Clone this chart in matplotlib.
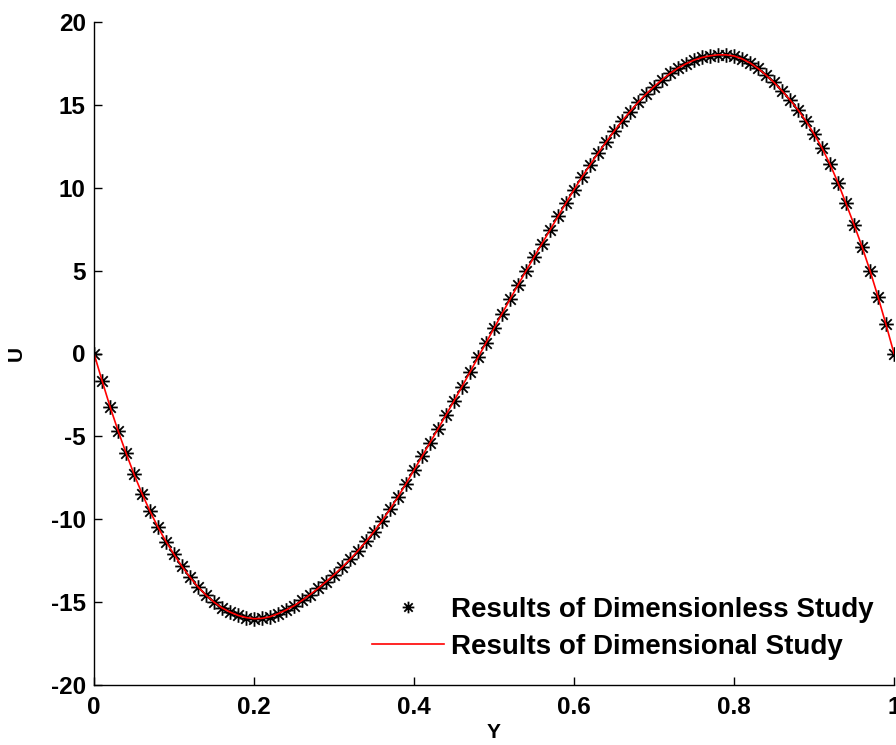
import matplotlib
matplotlib.use("Agg")
import matplotlib.pyplot as plt
from matplotlib.path import Path

# ---- data ----
y_coord = [0.00, 0.01, 0.02, 0.03, 0.04, 0.05, 0.06, 0.07, 0.08, 0.09,
           0.10, 0.11, 0.12, 0.13, 0.14, 0.15, 0.16, 0.17, 0.18, 0.19,
           0.20, 0.21, 0.22, 0.23, 0.24, 0.25, 0.26, 0.27, 0.28, 0.29,
           0.30, 0.31, 0.32, 0.33, 0.34, 0.35, 0.36, 0.37, 0.38, 0.39,
           0.40, 0.41, 0.42, 0.43, 0.44, 0.45, 0.46, 0.47, 0.48, 0.49,
           0.50, 0.51, 0.52, 0.53, 0.54, 0.55, 0.56, 0.57, 0.58, 0.59,
           0.60, 0.61, 0.62, 0.63, 0.64, 0.65, 0.66, 0.67, 0.68, 0.69,
           0.70, 0.71, 0.72, 0.73, 0.74, 0.75, 0.76, 0.77, 0.78, 0.79,
           0.80, 0.81, 0.82, 0.83, 0.84, 0.85, 0.86, 0.87, 0.88, 0.89,
           0.90, 0.91, 0.92, 0.93, 0.94, 0.95, 0.96, 0.97, 0.98, 0.99,
           1.00]

u_dimensionless = [0.0, -1.63, -3.2, -4.65, -6.0, -7.28, -8.45, -9.52, -10.48, -11.35,
                   -12.12, -12.85, -13.5, -14.08, -14.58, -15.0, -15.35, -15.6, -15.8, -15.93,
                   -16.0, -15.98, -15.88, -15.7, -15.48, -15.22, -14.9, -14.55, -14.17, -13.77,
                   -13.35, -12.9, -12.42, -11.9, -11.34, -10.74, -10.1, -9.4, -8.65, -7.86,
                   -7.04, -6.21, -5.38, -4.55, -3.71, -2.86, -2.0, -1.12, -0.24, 0.64,
                   1.52, 2.4, 3.27, 4.13, 4.98, 5.81, 6.63, 7.45, 8.27, 9.08,
                   9.88, 10.65, 11.38, 12.08, 12.75, 13.4, 14.02, 14.6, 15.15, 15.65,
                   16.1, 16.52, 16.9, 17.22, 17.48, 17.7, 17.86, 17.96, 18.02, 18.02,
                   17.95, 17.78, 17.53, 17.2, 16.8, 16.35, 15.85, 15.3, 14.7, 14.02,
                   13.25, 12.4, 11.42, 10.3, 9.05, 7.78, 6.45, 5.0, 3.42, 1.75,
                   0.0]

u_dimensional = list(u_dimensionless)

x_ticks = [0, 0.2, 0.4, 0.6, 0.8, 1]
x_tick_labels = ["0", "0.2", "0.4", "0.6", "0.8", "1"]
y_ticks = [-20, -15, -10, -5, 0, 5, 10, 15, 20]
y_tick_labels = ["-20", "-15", "-10", "-5", "0", "5", "10", "15", "20"]

label_dimensionless = "Results of Dimensionless Study"
label_dimensional = "Results of Dimensional Study"

# ---- style ----
plt.rcParams['font.family'] = ['Liberation Sans', 'DejaVu Sans']
plt.rcParams['font.weight'] = 'bold'

# MATLAB-like asterisk marker (+ and x combined)
d = 0.72
ast_verts = [(-1, 0), (1, 0), (0, -1), (0, 1), (-d, -d), (d, d), (-d, d), (d, -d)]
ast_codes = [Path.MOVETO, Path.LINETO] * 4
asterisk = Path(ast_verts, ast_codes)

fig = plt.figure(figsize=(8.96, 7.45), dpi=100)
ax = fig.add_axes([94 / 896, 1 - 685 / 745, 800 / 896, 663 / 745])

ax.plot(y_coord, u_dimensionless, linestyle='none', marker=asterisk,
        markersize=10.5, markerfacecolor='none', markeredgecolor='black',
        markeredgewidth=1.3, label=label_dimensionless)
ax.plot(y_coord, u_dimensional, color='red', linewidth=1.2,
        label=label_dimensional)

ax.set_xlim(0, 1)
ax.set_ylim(-20, 20)
ax.set_xticks(x_ticks)
ax.set_xticklabels(x_tick_labels)
ax.set_yticks(y_ticks)
ax.set_yticklabels(y_tick_labels)

for s in ['top', 'right']:
    ax.spines[s].set_visible(False)
for s in ['left', 'bottom']:
    ax.spines[s].set_linewidth(1.0)

ax.tick_params(axis='both', direction='in', length=6, width=1.0,
               labelsize=17.5, colors='black')
ax.tick_params(axis='x', pad=8)
ax.tick_params(axis='y', pad=6)
for lab in ax.get_xticklabels() + ax.get_yticklabels():
    lab.set_fontweight('bold')

ax.set_xlabel("Y", fontsize=15, fontweight='bold', labelpad=3)
ax.set_ylabel("U", fontsize=15, fontweight='bold', labelpad=18)

leg = ax.legend(loc='center left', bbox_to_anchor=(0.348, 0.0852),
                frameon=False, handlelength=2.57, markerscale=0.8,
                handletextpad=0.25, labelspacing=0.39, borderpad=0,
                borderaxespad=0, prop={'weight': 'bold', 'size': 20})

fig.savefig("out.png", dpi=100)
